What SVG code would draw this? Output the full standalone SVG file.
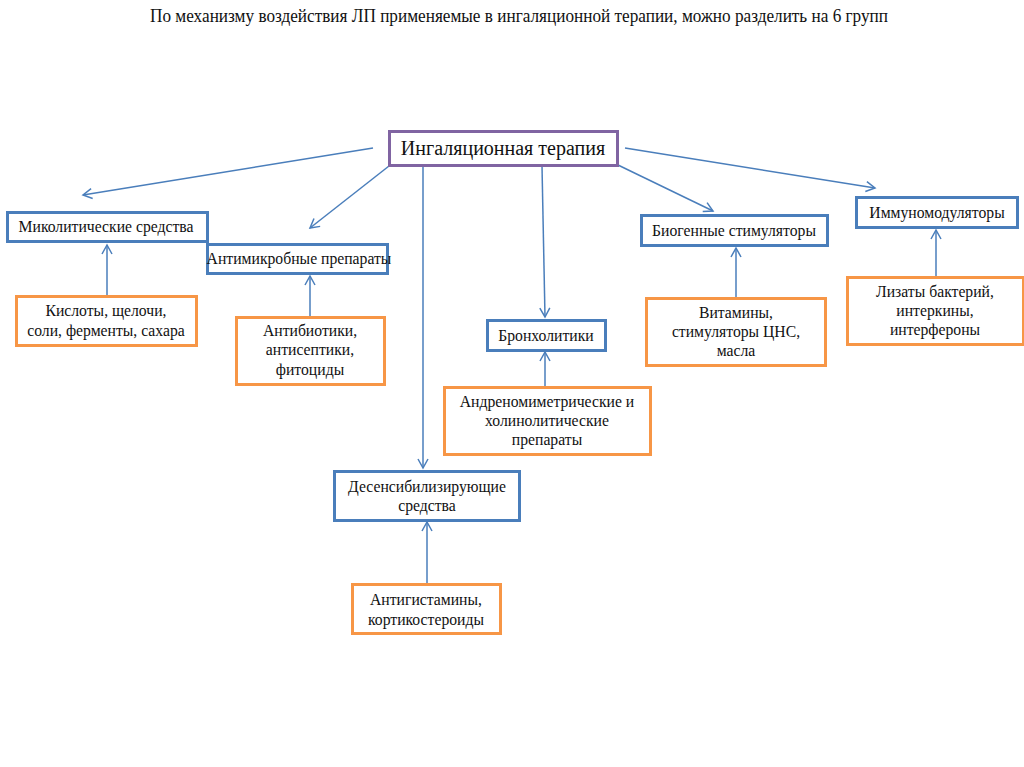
<svg xmlns="http://www.w3.org/2000/svg" width="1024" height="767" viewBox="0 0 1024 767">
<defs>
<marker id="ah" markerWidth="14" markerHeight="14" refX="10" refY="6" orient="auto" markerUnits="userSpaceOnUse">
<path d="M1,1 L10,6 L1,11" fill="none" stroke="#4a7ebb" stroke-width="1.5"/>
</marker>
<style>
text{font-family:'Liberation Serif',serif;fill:#111;text-anchor:middle;font-size:15.7px}
.b{fill:#fff;stroke:#4a7ebb;stroke-width:3}
.o{fill:#fff;stroke:#f79646;stroke-width:3}
.p{fill:#fff;stroke:#8064a2;stroke-width:3}
.c line{stroke:#4a7ebb;stroke-width:1.5;marker-end:url(#ah)}
</style>
</defs>
<rect width="1024" height="767" fill="#fff"/>
<text x="519" y="22" style="font-size:18px" textLength="738" lengthAdjust="spacingAndGlyphs">По механизму воздействия ЛП применяемые в ингаляционной терапии, можно разделить на  6 групп</text>
<g class="c" id="connectors">
<line x1="373" y1="148" x2="83" y2="195"/>
<line x1="389" y1="166" x2="310" y2="228"/>
<line x1="423" y1="166" x2="423" y2="468"/>
<line x1="542" y1="166" x2="545" y2="317"/>
<line x1="618" y1="165" x2="713" y2="211"/>
<line x1="625" y1="148" x2="875" y2="188"/>
<line x1="107" y1="296" x2="107" y2="245"/>
<line x1="310" y1="317" x2="310" y2="276"/>
<line x1="545" y1="387" x2="545" y2="352"/>
<line x1="736" y1="298" x2="736" y2="248"/>
<line x1="936" y1="277" x2="936" y2="230"/>
<line x1="427" y1="584" x2="427" y2="522"/>
</g>
<g id="main"><rect class="p" x="389.5" y="131.5" width="228" height="34"/><text x="503" y="155" style="font-size:20px">Ингаляционная терапия</text></g>
<g id="mukolit"><rect class="b" x="7.5" y="212.5" width="200" height="29"/><text x="106" y="232">Миколитические средства</text></g>
<g id="antimicro"><rect class="b" x="207.5" y="244.5" width="180" height="29"/><text x="299" y="264">Антимикробные препараты</text></g>
<g id="kisloty"><rect class="o" x="16.5" y="296.5" width="180" height="49"/><text x="106" y="316">Кислоты, щелочи,</text><text x="106" y="336">соли, ферменты, сахара</text></g>
<g id="antibiotiki"><rect class="o" x="236.5" y="317.5" width="148" height="67"/><text x="310" y="336">Антибиотики,</text><text x="310" y="355">антисептики,</text><text x="310" y="375">фитоциды</text></g>
<g id="broncho"><rect class="b" x="487.5" y="320.5" width="118" height="30"/><text x="546" y="341">Бронхолитики</text></g>
<g id="andreno"><rect class="o" x="444.5" y="387.5" width="206" height="67"/><text x="547" y="407">Андреномиметрические и</text><text x="547" y="426">холинолитические</text><text x="547" y="445">препараты</text></g>
<g id="desens"><rect class="b" x="334.5" y="471.5" width="185" height="49"/><text x="427" y="492">Десенсибилизирующие</text><text x="427" y="511">средства</text></g>
<g id="antigist"><rect class="o" x="352.5" y="584.5" width="148" height="49"/><text x="426" y="605">Антигистамины,</text><text x="426" y="625">кортикостероиды</text></g>
<g id="biogen"><rect class="b" x="641.5" y="215.5" width="186" height="30"/><text x="734" y="236">Биогенные стимуляторы</text></g>
<g id="vitamins"><rect class="o" x="646.5" y="298.5" width="179" height="67"/><text x="736" y="318">Витамины,</text><text x="736" y="337">стимуляторы ЦНС,</text><text x="736" y="356">масла</text></g>
<g id="immuno"><rect class="b" x="856.5" y="197.5" width="161" height="30"/><text x="937" y="218">Иммуномодуляторы</text></g>
<g id="lizaty"><rect class="o" x="847.5" y="277.5" width="176" height="67"/><text x="935" y="297">Лизаты бактерий,</text><text x="935" y="316">интеркины,</text><text x="935" y="335">интерфероны</text></g>
</svg>
